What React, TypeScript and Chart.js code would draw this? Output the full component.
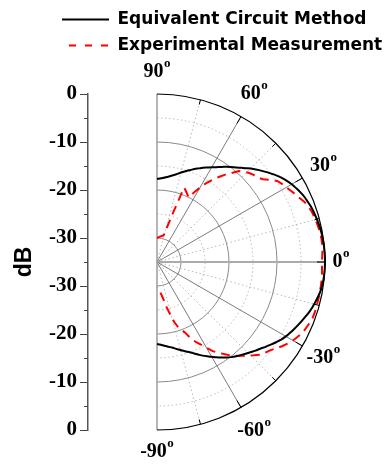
import React, { useEffect, useRef } from 'react';
import { Chart, registerables } from 'chart.js';

Chart.register(...registerables);

// ---------- data ----------
const seriesNames = ['Equivalent Circuit Method', 'Experimental Measurement'];
const angleStepDeg = 2;
// radar categories cover the full circle; only 90° .. -90° carry data
const circleLabels: number[] = Array.from({ length: 360 / angleStepDeg }, (_, i) => 90 - i * angleStepDeg);
const thetaDeg: number[] = circleLabels.slice(0, 91); // 90, 88, ..., -90

// dB values at thetaDeg (90 -> -90)
const equivalentCircuit: number[] = [
  -17.7, -17.6, -17.45, -17.25, -17.0, -16.7, -16.35, -15.95, -15.5, -15.05,
  -14.6, -14.1, -13.65, -13.15, -12.7, -12.2, -11.7, -11.1, -10.5, -9.9,
  -9.3, -8.6, -7.85, -7.1, -6.4, -5.7, -5.0, -4.3, -3.65, -3.1,
  -2.6, -2.2, -1.8, -1.45, -1.2, -0.95, -0.75, -0.6, -0.45, -0.3,
  -0.2, -0.12, -0.07, -0.03, 0, 0,
  -0.02, -0.06, -0.12, -0.25, -0.4, -0.65, -0.95, -1.25, -1.6, -2.0,
  -2.4, -2.8, -3.2, -3.6, -4.0, -4.5, -5.1, -5.7, -6.3, -6.9,
  -7.4, -7.95, -8.45, -8.9, -9.35, -9.85, -10.4, -11.0, -11.6, -12.2,
  -12.75, -13.3, -13.9, -14.45, -15.0, -15.4, -15.8, -16.2, -16.55, -16.9,
  -17.15, -17.4, -17.6, -17.8, -17.9,
];

const experimental: number[] = [
  -30.0, -29.9, -29.8, -29.7, -29.6, -29.5, -29.4, -29.3, -27.6, -24.3,
  -18.5, -19.0, -19.5, -20.0, -18.6, -17.1, -15.6, -14.3, -13.1, -11.9,
  -10.8, -9.5, -8.9, -8.3, -7.9, -7.6, -7.0, -5.9, -4.8, -4.3,
  -3.9, -3.4, -2.9, -2.4, -1.8, -1.4, -1.1, -0.9, -0.75, -0.6,
  -0.5, -0.4, -0.4, -0.45, -0.55, -0.65,
  -0.6, -0.55, -0.5, -0.5, -0.5, -0.5, -0.5, -0.5, -0.5, -0.55,
  -0.8, -1.05, -1.3, -1.8, -2.3, -2.9, -3.6, -4.4, -5.1, -5.6,
  -6.1, -7.0, -7.9, -8.7, -9.5, -10.3, -11.3, -12.2, -13.1, -14.4,
  -15.5, -16.4, -17.5, -19.0, -19.9, -20.7, -22.0, -23.8, -25.4, -27.0,
  -28.0, -28.7, -29.2, -29.5, -29.7,
];

const rMin = -35;
const rMax = 0;
const ringValues = [-30, -25, -20, -15, -10, -5];
const majorRings = [-30, -20, -10];
const spokeAngles = [90, 75, 60, 45, 30, 15, 0, -15, -30, -45, -60, -75, -90];
const labelAngles = [90, 60, 30, 0, -30, -60, -90];
const dbTickLabels = [0, -10, -20, -30];
const dbTickStep = 5;

// ---------- layout constants ----------
const AXIS_RIGHT = 88;     // x of the dB axis line
const POLAR_OFFSET = 69;   // polar centre distance right of the dB axis
const LEGEND_LEFT = 53;

// ---------- helpers ----------
const idx = (theta: number) => (90 - theta) / angleStepDeg;
const mirrorLabel = (v: number): string => {
  const db = rMin + Math.abs(v);
  return dbTickLabels.includes(db) ? String(db) : '';
};

const legendShiftPlugin = {
  id: 'legendShift',
  beforeDraw(chart: any) {
    const lg = chart.legend;
    if (lg) {
      const w = lg.right - lg.left;
      lg.left = LEGEND_LEFT;
      lg.right = LEGEND_LEFT + w;
    }
  },
};

const polarGridPlugin = {
  id: 'polarGrid',
  beforeDatasetsDraw(chart: any) {
    const r = chart.scales.r;
    const ctx = chart.ctx as CanvasRenderingContext2D;
    const xC = r.xCenter, yC = r.yCenter;
    const R = r.getDistanceFromCenterForValue(rMax);
    const pt = (th: number, d: number) => r.getPointPosition(idx(th), d);
    ctx.save();
    ringValues.forEach((v) => {
      const major = majorRings.includes(v);
      ctx.beginPath();
      ctx.setLineDash(major ? [] : [1.5, 2.5]);
      ctx.strokeStyle = major ? '#8a8a8a' : '#b8b8b8';
      ctx.lineWidth = 1;
      ctx.arc(xC, yC, r.getDistanceFromCenterForValue(v), -Math.PI / 2, Math.PI / 2);
      ctx.stroke();
    });
    spokeAngles.forEach((th) => {
      const end = pt(th, R);
      ctx.beginPath();
      if (th === 0) {
        ctx.setLineDash([]); ctx.strokeStyle = '#ababab'; ctx.lineWidth = 2;
      } else if (Math.abs(th) === 90) {
        ctx.setLineDash([]); ctx.strokeStyle = '#9c9c9c'; ctx.lineWidth = 1.5;
      } else if (th % 30 === 0) {
        ctx.setLineDash([]); ctx.strokeStyle = '#7c7c7c'; ctx.lineWidth = 1;
      } else {
        ctx.setLineDash([1.5, 2.5]); ctx.strokeStyle = '#b8b8b8'; ctx.lineWidth = 1;
      }
      ctx.moveTo(xC, yC);
      ctx.lineTo(end.x, end.y);
      ctx.stroke();
    });
    ctx.setLineDash([]);
    ctx.strokeStyle = '#000';
    ctx.lineWidth = 1.2;
    ctx.beginPath();
    ctx.arc(xC, yC, R, -Math.PI / 2, Math.PI / 2);
    ctx.stroke();
    ctx.lineWidth = 1;
    spokeAngles.forEach((th) => {
      if (Math.abs(th) === 90) return;
      const len = th % 30 === 0 ? 8 : 5;
      const a = pt(th, R);
      const b = pt(th, R - len);
      ctx.beginPath();
      ctx.moveTo(a.x, a.y);
      ctx.lineTo(b.x, b.y);
      ctx.stroke();
    });
    ctx.restore();
  },
};

const angleLabelPlugin = {
  id: 'angleLabels',
  afterDraw(chart: any) {
    const r = chart.scales.r;
    const ctx = chart.ctx as CanvasRenderingContext2D;
    const R = r.getDistanceFromCenterForValue(rMax);
    ctx.save();
    ctx.fillStyle = '#000';
    ctx.textBaseline = 'middle';
    ctx.textAlign = 'left';
    const big = 'bold 20px "Liberation Serif", "Times New Roman", serif';
    const small = 'bold 13px "Liberation Serif", "Times New Roman", serif';
    labelAngles.forEach((th) => {
      const rad = (th * Math.PI) / 180;
      const d = R + 16 + 6 * Math.abs(Math.sin(rad)) + 6 * Math.abs(Math.sin(2 * rad));
      const p = r.getPointPosition(idx(th), d);
      const txt = String(th);
      ctx.font = big;
      const w1 = ctx.measureText(txt).width;
      ctx.font = small;
      const w2 = ctx.measureText('o').width;
      const x0 = p.x - (w1 + w2 + 0.5) / 2;
      ctx.font = big;
      ctx.fillText(txt, x0, p.y);
      ctx.font = small;
      ctx.fillText('o', x0 + w1 + 0.5, p.y - 8);
    });
    ctx.restore();
  },
};

const minorTickPlugin = {
  id: 'minorTicks',
  afterDraw(chart: any) {
    const y = chart.scales.y;
    const ctx = chart.ctx as CanvasRenderingContext2D;
    ctx.save();
    ctx.strokeStyle = '#444';
    ctx.lineWidth = 1;
    for (let v = rMin; v <= -rMin; v += dbTickStep) {
      if (mirrorLabel(v) !== '') continue;
      const py = Math.round(y.getPixelForValue(v)) + 0.5;
      ctx.beginPath();
      ctx.moveTo(y.right - 4, py);
      ctx.lineTo(y.right, py);
      ctx.stroke();
    }
    ctx.restore();
  },
};

export default function App() {
  const ref = useRef<HTMLCanvasElement>(null);
  useEffect(() => {
    const canvas = ref.current;
    if (!canvas) return;
    const chart = new Chart(canvas, {
      type: 'radar',
      data: {
        labels: circleLabels,
        datasets: [
          {
            label: seriesNames[0],
            data: equivalentCircuit,
            borderColor: '#000000',
            backgroundColor: '#000000',
            borderWidth: 2,
            pointRadius: 0,
            tension: 0.3,
            fill: false,
            clip: false,
          } as any,
          {
            label: seriesNames[1],
            data: experimental,
            borderColor: '#ff0000',
            backgroundColor: '#ff0000',
            borderWidth: 2,
            borderDash: [9, 6],
            pointRadius: 0,
            tension: 0,
            fill: false,
            clip: false,
          } as any,
        ],
      },
      options: {
        responsive: false,
        animation: false,
        devicePixelRatio: 1,
        layout: { padding: { left: 0, top: 2, right: 0, bottom: 34 } },
        scales: {
          r: {
            type: 'radialLinear',
            min: rMin,
            max: rMax,
            startAngle: 0,
            grid: { display: false },
            angleLines: { display: false },
            pointLabels: { display: false },
            ticks: { display: false },
            afterFit: (s: any) => {
              s.xCenter = s.left + POLAR_OFFSET;
              s.yCenter = (s.top + s.bottom) / 2;
              s.drawingArea = (s.bottom - s.top) / 2;
            },
          } as any,
          y: {
            type: 'linear',
            position: 'left',
            min: rMin,
            max: -rMin,
            afterFit: (s: any) => {
              s.width = AXIS_RIGHT;
            },
            ticks: {
              stepSize: dbTickStep,
              autoSkip: false,
              padding: 3,
              color: '#000',
              font: { family: '"Liberation Serif", "Times New Roman", serif', weight: 'bold', size: 21 },
              callback: (v: any) => mirrorLabel(Number(v)),
            },
            grid: {
              drawOnChartArea: false,
              drawTicks: true,
              tickLength: 8,
              tickWidth: 1,
              tickColor: (c: any) => (mirrorLabel(c.tick.value) !== '' ? '#444' : 'rgba(0,0,0,0)'),
            },
            border: { display: true, color: '#555', width: 1.5 },
            title: {
              display: true,
              text: 'dB',
              color: '#000',
              font: { family: '"Liberation Sans", Arial, sans-serif', weight: 'bold', size: 23 },
              padding: { top: 11, bottom: 0 },
            },
          } as any,
        },
        plugins: {
          legend: {
            display: true,
            position: 'top',
            align: 'start',
            labels: {
              usePointStyle: true,
              pointStyle: 'line',
              pointStyleWidth: 47,
              padding: 9,
              color: '#000',
              font: { family: '"DejaVu Sans", sans-serif', weight: 'bold', size: 17 },
              generateLabels: (ch: any) => {
                const items = (Chart.defaults.plugins.legend.labels as any).generateLabels(ch);
                items.forEach((it: any, i: number) => {
                  it.lineWidth = 2;
                  it.pointStyle = 'line';
                  if (i === 1) {
                    it.lineDash = [7, 9];
                    it.lineDashOffset = 9;
                  }
                });
                return items;
              },
            },
          },
          title: {
            display: true,
            text: '',
            position: 'top',
            weight: 500,
            font: { size: 10, lineHeight: 1 },
            padding: { top: 0, bottom: 20 },
          } as any,
          tooltip: { enabled: false },
        },
      } as any,
      plugins: [legendShiftPlugin, polarGridPlugin, angleLabelPlugin, minorTickPlugin],
    });
    return () => chart.destroy();
  }, []);

  return (
    <div style={{ position: 'fixed', left: 0, top: 0, width: 392, height: 464, background: '#fff' }}>
      <canvas ref={ref} width={392} height={464} style={{ display: 'block', width: 392, height: 464 }} />
    </div>
  );
}
